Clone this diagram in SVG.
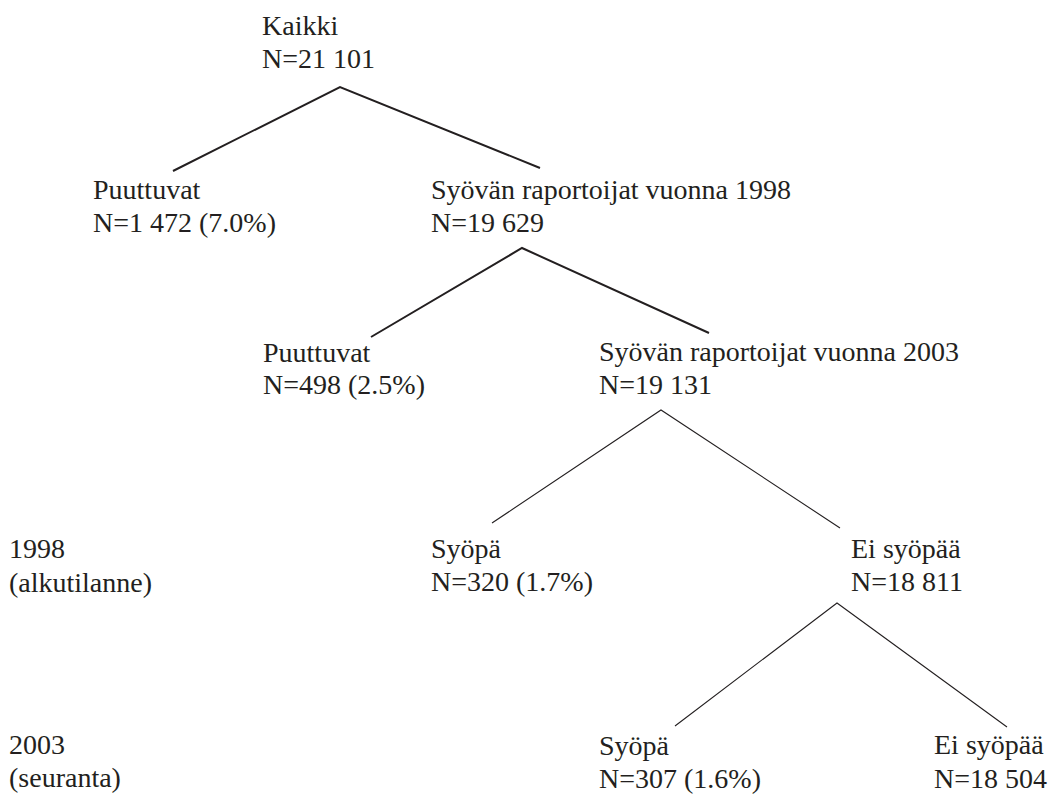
<svg xmlns="http://www.w3.org/2000/svg" width="1049" height="808" viewBox="0 0 1049 808">
<style>
text{font-size:28px;fill:#231f20}
.thick{stroke:#231f20;stroke-width:2;fill:none}
.thin{stroke:#231f20;stroke-width:1.1;fill:none}
</style>
<rect width="1049" height="808" fill="#fff"/>
<g id="connectors">
<polyline class="thick" points="173,171 340,87 540,168"/>
<polyline class="thick" points="371,337 522,248 709,333"/>
<polyline class="thin" points="492,523 661,410 840,528"/>
<polyline class="thin" points="675,726 837,603 1007,727"/>
</g>
<g font-family="Liberation Serif, Times New Roman, DejaVu Serif, serif">
<g id="kaikki"><text x="262" y="35">Kaikki</text><text x="262" y="68">N=21 101</text></g>
<g id="puuttuvat1"><text x="93" y="199">Puuttuvat</text><text x="93" y="232">N=1 472 (7.0%)</text></g>
<g id="raportoijat1998"><text x="431" y="199">Syövän raportoijat vuonna 1998</text><text x="431" y="232">N=19 629</text></g>
<g id="puuttuvat2"><text x="263" y="362">Puuttuvat</text><text x="263" y="394">N=498 (2.5%)</text></g>
<g id="raportoijat2003"><text x="599" y="361">Syövän raportoijat vuonna 2003</text><text x="599" y="394">N=19 131</text></g>
<g id="label1998"><text x="9" y="558">1998</text><text x="9" y="592">(alkutilanne)</text></g>
<g id="syopa1998"><text x="431" y="558">Syöpä</text><text x="431" y="591">N=320 (1.7%)</text></g>
<g id="eisyopaa1998"><text x="851" y="558">Ei syöpää</text><text x="851" y="591">N=18 811</text></g>
<g id="label2003"><text x="9" y="754">2003</text><text x="9" y="787">(seuranta)</text></g>
<g id="syopa2003"><text x="599" y="755">Syöpä</text><text x="599" y="788">N=307 (1.6%)</text></g>
<g id="eisyopaa2003"><text x="934" y="754">Ei syöpää</text><text x="934" y="788">N=18 504</text></g>
</g>
</svg>
